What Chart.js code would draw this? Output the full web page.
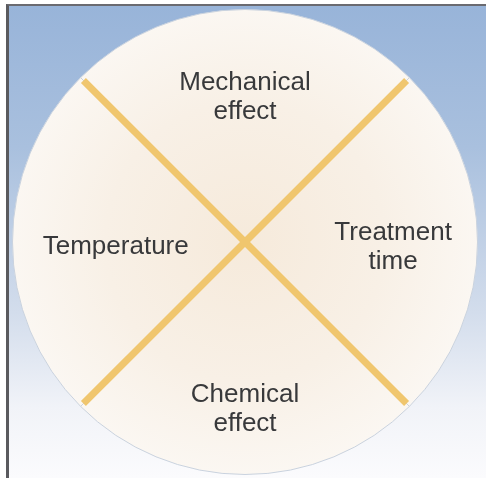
<!DOCTYPE html>
<html>
<head>
<meta charset="utf-8">
<script src="https://cdn.jsdelivr.net/npm/chart.js@4/dist/chart.umd.min.js"></script>
<style>
  html, body { margin: 0; padding: 0; background: #fff; }
  #wrap { position: relative; width: 486px; height: 486px; overflow: hidden; }
  #frame {
    position: absolute; left: 6px; top: 4px; width: 480px; height: 474px;
    border-left: 3px solid #5a5a5e; border-top: 2px solid #6a6a70;
    box-sizing: border-box;
    background: linear-gradient(to bottom, #98b4d9 0%, #a9c0de 30%, #d3ddec 65%, #f1f3f8 85%, #fbfbfd 100%);
  }
  canvas { position: absolute; left: 0; top: 0; }
</style>
</head>
<body>
<div id="wrap">
  <div id="frame"></div>
  <canvas id="circleChart" width="486" height="486"></canvas>
</div>
<script>
  // factors of the cleaning circle, clockwise from the top
  const factors = [['Mechanical', 'effect'], ['Treatment', 'time'], ['Chemical', 'effect'], ['Temperature']];
  const shares = [25, 25, 25, 25];
  const labelRadius = [0.645, 0.637, 0.70, 0.556];

  // yellow dividers along each slice edge
  const dividerPlugin = {
    id: 'dividers',
    afterDatasetsDraw(chart) {
      const ctx = chart.ctx;
      const arcs = chart.getDatasetMeta(0).data;
      ctx.save();
      ctx.strokeStyle = '#f0c66e';
      ctx.lineWidth = 7;
      ctx.lineCap = 'butt';
      arcs.forEach(arc => {
        const r = arc.outerRadius - 4;
        ctx.beginPath();
        ctx.moveTo(arc.x, arc.y);
        ctx.lineTo(arc.x + Math.cos(arc.startAngle) * r, arc.y + Math.sin(arc.startAngle) * r);
        ctx.stroke();
      });
      ctx.restore();
    }
  };

  // text inside each slice
  const labelPlugin = {
    id: 'sliceLabels',
    afterDraw(chart) {
      const ctx = chart.ctx;
      const arcs = chart.getDatasetMeta(0).data;
      ctx.save();
      ctx.fillStyle = '#38393b';
      ctx.font = '26px "Liberation Sans", Arial, sans-serif';
      ctx.textAlign = 'center';
      ctx.textBaseline = 'middle';
      arcs.forEach((arc, i) => {
        const mid = (arc.startAngle + arc.endAngle) / 2;
        const r = arc.outerRadius * labelRadius[i];
        const cx = arc.x + Math.cos(mid) * r;
        const cy = arc.y + Math.sin(mid) * r + 5;
        const lines = factors[i];
        const lh = 29;
        lines.forEach((t, j) => {
          ctx.fillText(t, cx, cy + (j - (lines.length - 1) / 2) * lh);
        });
      });
      ctx.restore();
    }
  };

  const ctx = document.getElementById('circleChart').getContext('2d');
  new Chart(ctx, {
    type: 'pie',
    data: {
      labels: factors.map(f => f.join(' ')),
      datasets: [{
        data: shares,
        backgroundColor: (c) => {
          const a = c.chart.chartArea;
          if (!a) return '#f8f0e6';
          const x = (a.left + a.right) / 2, y = (a.top + a.bottom) / 2;
          const r = Math.min(a.right - a.left, a.bottom - a.top) / 2;
          const g = c.chart.ctx.createRadialGradient(x, y, 0, x, y, r);
          g.addColorStop(0, '#f6eadb');
          g.addColorStop(0.6, '#f8f0e6');
          g.addColorStop(1, '#fbf7f2');
          return g;
        },
        borderColor: '#c9d2de',
        borderWidth: 1
      }]
    },
    options: {
      responsive: false,
      animation: false,
      events: [],
      rotation: -45,
      layout: { padding: { left: 12, right: 8, top: 8, bottom: 10 } },
      plugins: {
        legend: { display: false },
        tooltip: { enabled: false }
      }
    },
    plugins: [dividerPlugin, labelPlugin]
  });
</script>
</body>
</html>
